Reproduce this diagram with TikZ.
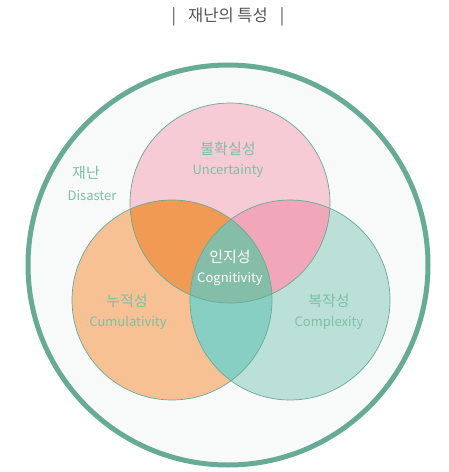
\documentclass[tikz,border=0pt]{standalone}
\usepackage{fontspec}
\setmainfont{Noto Sans CJK KR}
\definecolor{ring}{HTML}{66AB95}
\definecolor{inner}{HTML}{F8FAF9}
\definecolor{cpink}{HTML}{F6CBD5}
\definecolor{corange}{HTML}{F7C194}
\definecolor{cteal}{HTML}{BAE0D8}
\definecolor{po}{HTML}{F19A53}
\definecolor{pt}{HTML}{F2A6B9}
\definecolor{ot}{HTML}{86CFC2}
\definecolor{pot}{HTML}{85BEA8}
\definecolor{lbl}{HTML}{7CC0A5}
\definecolor{ttl}{HTML}{555555}
\tikzset{
  lab/.style={text=lbl, font=\fontsize{13}{15}\selectfont, inner sep=0pt},
  klab/.style={text=lbl, font=\fontsize{15}{17}\selectfont, inner sep=0pt},
  wlab/.style={text=white, font=\fontsize{13}{15}\selectfont, inner sep=0pt},
  wklab/.style={text=white, font=\fontsize{15}{17}\selectfont, inner sep=0pt},
  edge/.style={draw=ring, line width=0.7pt}
}
\begin{document}
\begin{tikzpicture}[x=1pt,y=-1pt]
\useasboundingbox (0,0) rectangle (449,472);
\def\P{(230,203) circle (100)}
\def\O{(172,300) circle (100)}
\def\T{(290,300) circle (100)}
\fill[inner] (228,265) circle (200);
\draw[ring, line width=5pt] (228,265) circle (200);
\fill[cpink] \P;
\fill[corange] \O;
\fill[cteal] \T;
\begin{scope}\clip \P; \fill[po] \O; \fill[pt] \T; \end{scope}
\begin{scope}\clip \O; \fill[ot] \T; \end{scope}
\begin{scope}\clip \P; \clip \O; \fill[pot] \T; \end{scope}
\draw[edge] \P; \draw[edge] \O; \draw[edge] \T;
\node[text=ttl, font=\fontsize{16.5}{18}\selectfont, inner sep=0pt] (title) at (228,17) {|\hspace{12pt}재난의 특성\hspace{12pt}|};
\node[klab] (dk) at (86,173) {재난};
\node[lab] (de) at (92,196) {Disaster};
\node[klab] (uk) at (228,149) {불확실성};
\node[lab] (ue) at (228,171) {Uncertainty};
\node[wklab] (ck) at (230,257) {인지성};
\node[wlab] (ce) at (230,279) {Cognitivity};
\node[klab] (mk) at (127,301) {누적성};
\node[lab] (me) at (128,323) {Cumulativity};
\node[klab] (xk) at (329,301) {복작성};
\node[lab] (xe) at (329,323) {Complexity};
\end{tikzpicture}
\end{document}
